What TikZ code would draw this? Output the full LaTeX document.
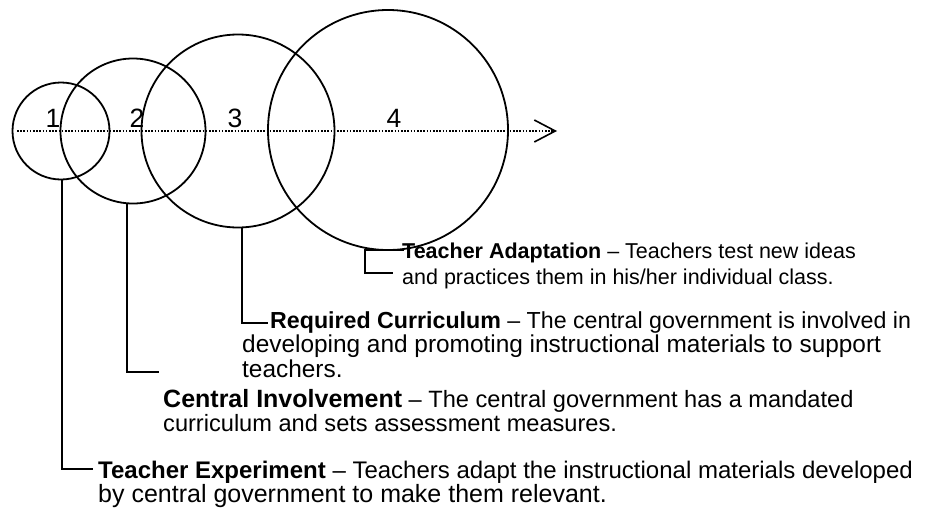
\documentclass[tikz,border=0pt]{standalone}
\usepackage{fontspec}
\setmainfont{Liberation Sans}
\usetikzlibrary{arrows.meta}
\begin{document}
\begin{tikzpicture}[x=1pt,y=-1pt,
  ring/.style={draw, circle, line width=1.8pt, inner sep=0pt},
  digit/.style={inner sep=0pt, anchor=base, font=\fontsize{26.5}{30}\selectfont},
  txt/.style={inner sep=0pt, anchor=base west, align=left},
  conn/.style={draw, line width=1.5pt},
  axis/.style={line width=1.6pt, dash pattern=on 1.6pt off 1.6pt,
    -{Straight Barb[length=21pt,width=22pt,line width=1.6pt]}}]
\useasboundingbox (0,0) rectangle (941,509);
% circles
\node[ring, minimum size=97pt]  (c1) at (61,131) {};
\node[ring, minimum size=145pt] (c2) at (133,131) {};
\node[ring, minimum size=193pt] (c3) at (238,131) {};
\node[ring, minimum size=240pt] (c4) at (388,130) {};
% axis
\coordinate (a0) at (17,131);
\coordinate (a1) at (557,131);
\draw[axis] (a0) -- (a1);
% numbers
\node[digit] (n1) at (53,127) {1};
\node[digit] (n2) at (137,127) {2};
\node[digit] (n3) at (235,127) {3};
\node[digit] (n4) at (394,127) {4};
% texts (anchor = baseline of the last line)
\node[txt, font=\fontsize{21.5}{26}\selectfont] (ta) at (402,284)
  {\textbf{Teacher Adaptation} -- Teachers test new ideas\\and practices them in his/her individual class.};
\node[txt, font=\fontsize{24.4}{24.5}\selectfont] (rc) at (242,377)
  {\hspace*{28pt}{\fontsize{23.2}{24.5}\selectfont\textbf{Required Curriculum} -- The central government is involved in}\\developing and promoting instructional materials to support\\teachers.};
\node[txt, font=\fontsize{23.6}{24}\selectfont] (ci) at (163,431)
  {{\fontsize{25}{24}\selectfont\bfseries Central Involvement} -- The central government has a mandated\\curriculum and sets assessment measures.};
\node[txt, font=\fontsize{24}{24}\selectfont] (te) at (98,502)
  {\textbf{Teacher Experiment} -- Teachers adapt the instructional materials developed\\{\fontsize{25}{24}\selectfont by central government to make them relevant.}};
% connectors
\coordinate (ta-top) at (404,250);
\coordinate (ta-c) at (365,250);
\coordinate (ta-bot) at (393,273);
\draw[conn] (ta-top) -- (ta-c) |- (ta-bot);
\coordinate (rc-in) at (268,323);
\draw[conn] ([xshift=4pt]c3.south) |- (rc-in);
\coordinate (ci-in) at (159,372);
\draw[conn] ([xshift=-6pt]c2.south) |- (ci-in);
\coordinate (te-in) at (93,469);
\draw[conn] ([xshift=1pt]c1.south) |- (te-in);
\end{tikzpicture}
\end{document}
